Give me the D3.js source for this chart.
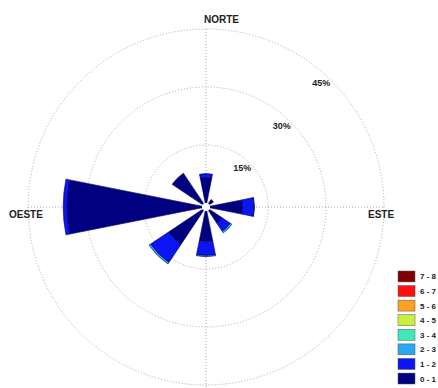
<!DOCTYPE html>
<html><head><meta charset="utf-8">
<script src="https://cdn.jsdelivr.net/npm/d3@7"></script>
<style>body{margin:0;background:#fff}svg{display:block}</style>
</head><body>
<svg id="c" width="438" height="388"></svg>
<script>
// Directions (degrees clockwise from north)
const directions = [0, 45, 90, 135, 180, 225, 270, 315];
// Frequency (%) per speed class, per direction
const s01 = [6.6, 1.3, 8.4, 4.0, 7.9, 10.6, 34.9, 9.5];
const s12 = [1.0, 0.0, 3.0, 2.5, 3.6, 5.6, 1.0, 0.0];
const s23 = [0.0, 0.0, 0.1, 0.5, 0.3, 0.5, 0.0, 0.0];
const series = [s01, s12, s23];
const classLabels = ["0 - 1","1 - 2","2 - 3","3 - 4","4 - 5","5 - 6","6 - 7","7 - 8"];
const classColors = ["#000080","#0a14f5","#28a8ee","#40e8b8","#c8f03c","#ffa020","#ff1010","#7f0000"];
const ringValues = [15, 30, 45];
const ringLabels = ["15%", "30%", "45%"];
const axisLabels = ["NORTE", "ESTE", "OESTE"];

const svg = d3.select("#c");
const cx = 206, cy = 207;
const r = d3.scaleLinear().domain([0, 45]).range([4, 178]);
const g = svg.append("g").attr("transform", `translate(${cx},${cy})`);
const dotted = {stroke:"#a8a8a8","stroke-width":1,"stroke-dasharray":"1,2",fill:"none"};

// rings
ringValues.forEach(v => {
  const c = g.append("circle").attr("r", r(v));
  Object.entries(dotted).forEach(([k,val]) => c.attr(k,val));
});
// axes lines
const R = r(45);
[[-R,0,R,0],[0,-R,0,cy+200]].forEach(l => {
  const ln = g.append("line").attr("x1",l[0]).attr("y1",l[1]).attr("x2",l[2]).attr("y2",l[3]);
  Object.entries(dotted).forEach(([k,val]) => ln.attr(k,val));
});

// bars
const half = 11.25 * Math.PI / 180;
const arc = d3.arc();
directions.forEach((d, i) => {
  let cum = 0;
  const a = d * Math.PI / 180;
  series.forEach((s, k) => {
    const v = s[i];
    if (v <= 0) return;
    g.append("path")
      .attr("d", arc({innerRadius: r(cum), outerRadius: r(cum + v), startAngle: a - half, endAngle: a + half}))
      .attr("fill", classColors[k])
      .attr("stroke", "#000050").attr("stroke-width", 0.6);
    cum += v;
  });
});
// center hole
g.append("circle").attr("r", 4).attr("fill", "#fff");

// ring labels
const la = 43 * Math.PI / 180;
ringValues.forEach((v, i) => {
  const rr = r(v) - 9;
  g.append("text").attr("x", rr * Math.sin(la)).attr("y", -rr * Math.cos(la) + 3)
    .attr("text-anchor","middle").attr("font-family","Liberation Sans, Arial, sans-serif")
    .attr("font-weight","bold").attr("font-size", 9).attr("fill","#222").text(ringLabels[i]);
});

// axis labels
const tf = t => t.attr("font-family","Liberation Sans, Arial, sans-serif").attr("font-weight","bold")
  .attr("font-size", 10).attr("fill","#222");
tf(svg.append("text").attr("x", 204).attr("y", 23).text(axisLabels[0]));
tf(svg.append("text").attr("x", 368).attr("y", 218).text(axisLabels[1]));
tf(svg.append("text").attr("x", 9).attr("y", 218).text(axisLabels[2]));

// legend
const ly = d3.scaleBand().domain(d3.range(8)).range([271, 384]).paddingInner(0.25);
d3.range(8).forEach(j => {
  const idx = 7 - j;
  svg.append("rect").attr("x", 398).attr("y", ly(j)).attr("width", 17).attr("height", ly.bandwidth())
    .attr("fill", classColors[idx]).attr("stroke","#555").attr("stroke-width",0.5);
  svg.append("text").attr("x", 420).attr("y", ly(j) + ly.bandwidth()/2 + 3)
    .attr("font-family","Liberation Sans, Arial, sans-serif").attr("font-weight","bold")
    .attr("font-size", 8).attr("fill","#222").text(classLabels[idx]);
});
</script>
</body></html>
